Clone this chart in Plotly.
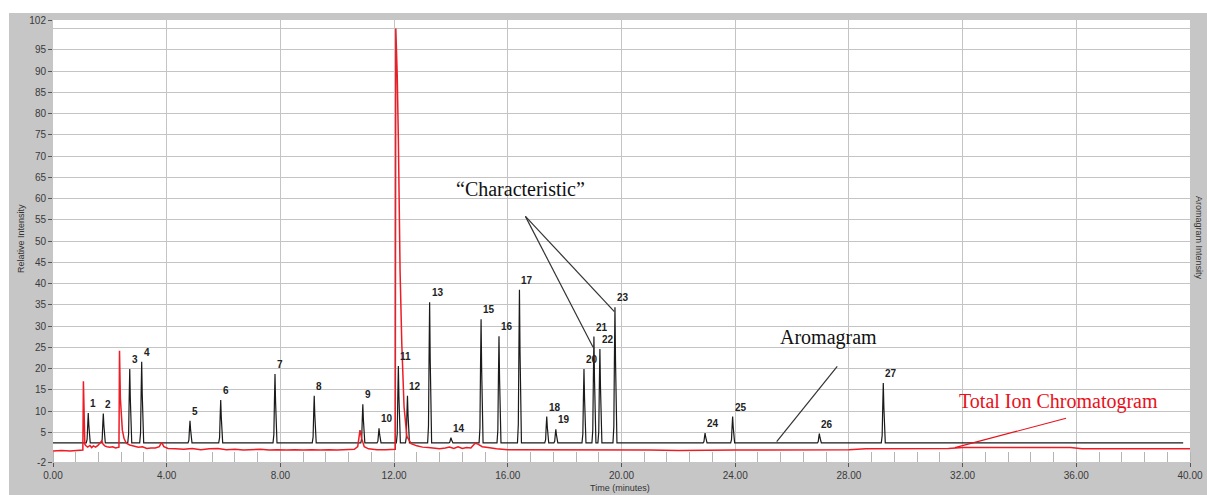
import plotly.graph_objects as go

# ---------------- data ----------------
# Aromagram (black): peak retention times (min) and heights (relative intensity)
peak_labels = [str(i) for i in range(1, 28)]
peak_rt = [1.24, 1.77, 2.70, 3.12, 4.82, 5.90, 7.81, 9.19, 10.90, 11.47,
           12.15, 12.47, 13.25, 14.00, 15.06, 15.69, 16.41, 17.37, 17.69, 18.68,
           19.03, 19.24, 19.77, 22.94, 23.91, 26.96, 29.21]
peak_height = [9.5, 9.4, 19.9, 21.6, 7.7, 12.6, 18.7, 13.6, 11.6, 5.9,
               20.6, 13.6, 35.6, 3.7, 31.6, 27.6, 38.5, 8.7, 5.7, 19.9,
               27.5, 24.6, 34.4, 4.8, 8.7, 4.7, 16.6]
aroma_baseline = 2.5
aroma_start, aroma_end = 0.0, 39.76

# Total Ion Chromatogram (red): time (min) and relative intensity
tic_time = [0.00, 0.30, 0.60, 0.90, 1.05, 1.07, 1.09, 1.12, 1.16, 1.22, 1.30, 1.36, 1.42,
            1.50, 1.58, 1.66, 1.72, 1.76, 1.82, 1.90, 2.00, 2.10, 2.20, 2.32, 2.34,
            2.37, 2.40, 2.44, 2.50, 2.58, 2.70, 2.85, 3.00, 3.15, 3.30, 3.45, 3.60,
            3.74, 3.82, 3.90, 4.05, 4.30, 4.60, 4.90, 5.20, 5.50, 5.80, 6.10, 6.40,
            6.70, 7.00, 7.30, 7.60, 7.90, 8.20, 8.50, 8.80, 9.10, 9.40, 9.70, 10.00,
            10.30, 10.60, 10.72, 10.80, 10.86, 10.95, 11.10, 11.40, 11.70, 12.00,
            12.04, 12.06, 12.11, 12.15, 12.17, 12.21, 12.27, 12.35, 12.45, 12.60,
            12.80, 13.00, 13.20, 13.40, 13.60, 13.80, 13.95, 14.10, 14.25, 14.40,
            14.55, 14.70, 14.85, 14.95, 15.10, 15.30, 15.60, 16.00, 16.50, 17.00,
            17.50, 18.00, 18.50, 19.00, 19.50, 20.00, 21.00, 22.00, 23.00, 24.00,
            25.00, 26.00, 27.00, 28.00, 28.60, 29.50, 30.50, 31.50, 32.00, 33.00,
            34.00, 35.00, 35.80, 36.20, 37.00, 38.00, 39.00, 40.00]
tic_intensity = [0.6, 0.7, 0.6, 0.7, 0.8, 17.0, 5.0, 2.2, 1.8, 1.5, 1.9, 1.4, 1.8,
                 1.5, 1.9, 2.4, 3.0, 2.2, 1.8, 1.6, 1.5, 1.6, 1.3, 1.5, 24.2,
                 13.0, 8.0, 5.5, 3.5, 2.4, 2.0, 1.7, 1.5, 1.6, 1.2, 1.3, 1.3,
                 1.6, 2.6, 1.6, 1.2, 1.1, 1.0, 1.2, 0.9, 1.1, 1.2, 0.9, 1.0,
                 0.8, 0.9, 1.0, 0.8, 0.9, 0.8, 0.9, 0.8, 0.9, 0.8, 0.9, 0.8,
                 0.9, 1.0, 1.6, 5.5, 3.5, 1.6, 1.1, 0.9, 0.9, 0.9,
                 1.0, 100.0, 89.0, 74.0, 58.0, 43.0, 26.0, 11.0, 4.0, 2.3,
                 1.8, 1.5, 1.4, 1.3, 1.1, 1.3, 1.5, 1.2, 1.6, 1.2,
                 1.4, 1.3, 2.4, 2.2, 1.6, 1.4, 1.1, 0.9, 0.9, 0.8,
                 0.9, 0.8, 0.8, 0.9, 0.8, 0.8, 0.8, 0.7, 0.8, 0.8,
                 0.8, 0.8, 0.9, 0.9, 1.1, 1.1, 1.2, 1.2, 1.4, 1.4,
                 1.5, 1.4, 1.4, 1.1, 1.1, 1.1, 1.1, 1.1]

# Axis ticks
x_tickvals = [0, 4, 8, 12, 16, 20, 24, 28, 32, 36, 40]
x_ticktext = ["0.00", "4.00", "8.00", "12.00", "16.00", "20.00", "24.00",
              "28.00", "32.00", "36.00", "40.00"]
y_tickvals = [-2, 5, 10, 15, 20, 25, 30, 35, 40, 45, 50, 55, 60, 65, 70, 75,
              80, 85, 90, 95, 102]
y_ticktext = [str(v) for v in y_tickvals]
y_extra_grid = [100]

# Callout texts and their pointer lines (data coordinates)
callout_text = ["\u201cCharacteristic\u201d", "Aromagram", "Total Ion Chromatogram"]
callout_pos = [(16.43, 62.2), (27.29, 27.2), (35.39, 12.2)]
callout_color = ["#111111", "#111111", "#e8101a"]
pointer_lines = [((16.62, 55.8), (19.00, 25.0), "#333333"),
                 ((16.62, 55.8), (19.75, 33.4), "#333333"),
                 ((27.59, 20.5), (25.46, 2.8), "#333333"),
                 ((35.64, 8.3), (31.73, 1.37), "#e8101a")]

GRID = "#c4c4c4"

# ---------------- build aromagram path ----------------
profile_dx = [-0.07, -0.04, -0.02, 0.0, 0.02, 0.04, 0.07]
profile_frac = [0.0, 0.12, 0.6, 1.0, 0.6, 0.12, 0.0]
ax_x = [aroma_start]
ax_y = [aroma_baseline]
for rt, h in zip(peak_rt, peak_height):
    for dx, f in zip(profile_dx, profile_frac):
        ax_x.append(rt + dx)
        ax_y.append(aroma_baseline + f * (h - aroma_baseline))
ax_x.append(aroma_end)
ax_y.append(aroma_baseline)

fig = go.Figure()
fig.add_trace(go.Scatter(x=ax_x, y=ax_y, mode="lines",
                         line=dict(color="#1a1a1a", width=1.2),
                         hoverinfo="skip", showlegend=False))
fig.add_trace(go.Scatter(x=tic_time, y=tic_intensity, mode="lines",
                         line=dict(color="#ee1c25", width=1.5),
                         hoverinfo="skip", showlegend=False))

# extra gridline (100) without a label
for gy in y_extra_grid:
    fig.add_shape(type="line", xref="paper", yref="y", x0=0, x1=1, y0=gy, y1=gy,
                  line=dict(color=GRID, width=1), layer="below")

# peak number labels
for lab, rt, h in zip(peak_labels, peak_rt, peak_height):
    fig.add_annotation(x=rt, y=h, text="<b>%s</b>" % lab, showarrow=False,
                       xanchor="left", yanchor="bottom", xshift=0, yshift=2,
                       font=dict(family="Liberation Sans", size=10, color="#222222"))

# callouts
for txt, (cx, cy), col in zip(callout_text, callout_pos, callout_color):
    fig.add_annotation(x=cx, y=cy, text=txt, showarrow=False,
                       xanchor="center", yanchor="middle",
                       font=dict(family="Liberation Serif", size=20, color=col))
for (x0, y0), (x1, y1), col in pointer_lines:
    fig.add_shape(type="line", xref="x", yref="y", x0=x0, y0=y0, x1=x1, y1=y1,
                  line=dict(color=col, width=1.2))

# frame: white strips above/left of the grey panel
W, H = 1207, 495
L, R, T, B = 53, 17, 20, 33
pw, ph = W - L - R, H - T - B
def px_to_paper_x(px):
    return (px - L) / pw
def py_to_paper_y(py):
    return 1 + (T - py) / ph
fig.add_shape(type="rect", xref="paper", yref="paper",
              x0=px_to_paper_x(0), x1=px_to_paper_x(W), y0=py_to_paper_y(13), y1=py_to_paper_y(0),
              fillcolor="white", line=dict(width=0), layer="above")
fig.add_shape(type="rect", xref="paper", yref="paper",
              x0=px_to_paper_x(0), x1=px_to_paper_x(9), y0=py_to_paper_y(H), y1=py_to_paper_y(0),
              fillcolor="white", line=dict(width=0), layer="above")

# axis titles
tick_font = dict(family="Liberation Sans", size=10, color="#3a3a3a")
fig.add_annotation(xref="paper", yref="paper", x=px_to_paper_x(620), y=py_to_paper_y(488),
                   text="Time (minutes)", showarrow=False, xanchor="center", yanchor="middle",
                   font=dict(family="Liberation Sans", size=9, color="#333333"))
fig.add_annotation(xref="paper", yref="paper", x=px_to_paper_x(21), y=py_to_paper_y(239),
                   text="Relative Intensity", showarrow=False, textangle=-90,
                   xanchor="center", yanchor="middle",
                   font=dict(family="Liberation Sans", size=9, color="#333333"))
fig.add_annotation(xref="paper", yref="paper", x=px_to_paper_x(1199), y=py_to_paper_y(238),
                   text="Aromagram Intensity", showarrow=False, textangle=90,
                   xanchor="center", yanchor="middle",
                   font=dict(family="Liberation Sans", size=9, color="#333333"))

fig.update_layout(
    width=W, height=H,
    margin=dict(l=L, r=R, t=T, b=B, pad=0, autoexpand=False),
    paper_bgcolor="#c6c6c6",
    plot_bgcolor="white",
    showlegend=False,
    xaxis=dict(range=[0, 40], tickmode="array", tickvals=x_tickvals, ticktext=x_ticktext,
               ticks="outside", ticklen=4, tickcolor="#555555", tickfont=tick_font,
               showgrid=True, gridcolor=GRID, gridwidth=1, zeroline=False,
               showline=False, automargin=False,
               minor=dict(dtick=0.8, tick0=0, ticks="inside", ticklen=10,
                          tickcolor="#b4b4b4", showgrid=False)),
    yaxis=dict(range=[-2, 102], tickmode="array", tickvals=y_tickvals, ticktext=y_ticktext,
               ticks="outside", ticklen=4, tickcolor="#555555", tickfont=tick_font,
               showgrid=True, gridcolor=GRID, gridwidth=1, zeroline=False,
               showline=False, automargin=False),
)

fig.write_html("out.html",
               config={"displayModeBar": False, "staticPlot": True},
               post_script="document.body.style.margin='0';document.body.style.padding='0';document.body.style.overflow='hidden';")
